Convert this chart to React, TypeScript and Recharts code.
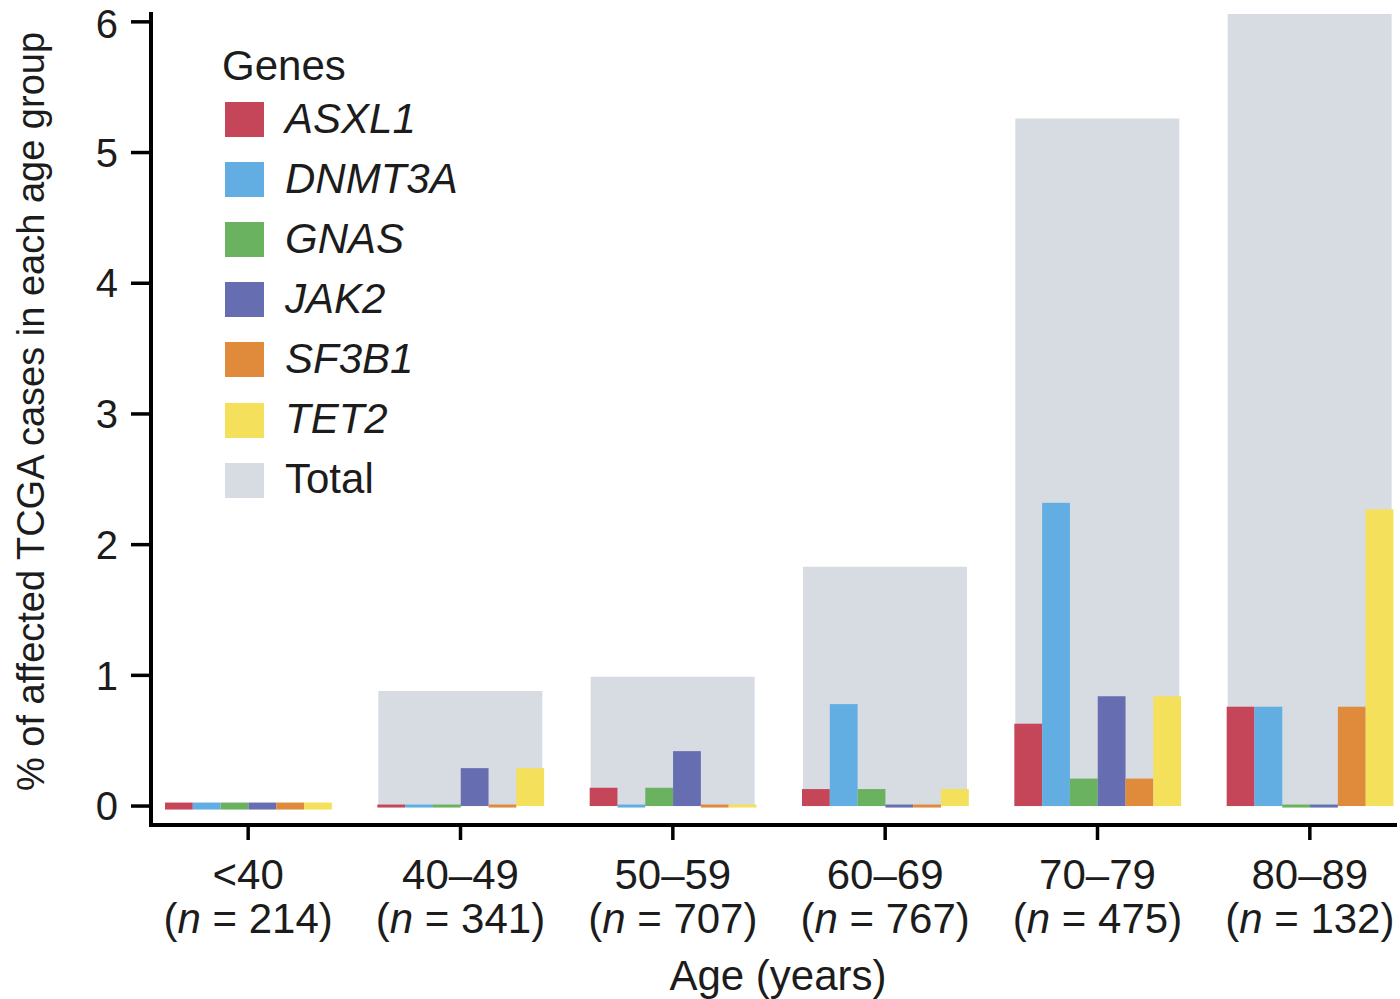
import React from 'react';
import { BarChart, Bar, XAxis, YAxis } from 'recharts';

const AGE_GROUPS = ['<40', '40–49', '50–59', '60–69', '70–79', '80–89'];
const GROUP_N = [214, 341, 707, 767, 475, 132];

// % of affected cases per gene, one value per age group
const ASXL1 = [0, 0, 0.14, 0.13, 0.63, 0.76];
const DNMT3A = [0, 0, 0, 0.78, 2.32, 0.76];
const GNAS = [0, 0, 0.14, 0.13, 0.21, 0];
const JAK2 = [0, 0.29, 0.42, 0, 0.84, 0];
const SF3B1 = [0, 0, 0, 0, 0.21, 0.76];
const TET2 = [0, 0.29, 0, 0.13, 0.84, 2.27];
const TOTAL = [0, 0.88, 0.99, 1.83, 5.26, 6.06];

const Y_TICKS = [0, 1, 2, 3, 4, 5, 6];

const GENES = ['ASXL1', 'DNMT3A', 'GNAS', 'JAK2', 'SF3B1', 'TET2'];
const GENE_VALUES = [ASXL1, DNMT3A, GNAS, JAK2, SF3B1, TET2];
const GENE_COLORS = ['#c64659', '#62aee3', '#6ab160', '#666db0', '#e08b3c', '#f4e05a'];
const TOTAL_COLOR = '#d7dce3';

const FONT = '"Liberation Sans", Arial, Helvetica, sans-serif';
const INK = '#1c1c1c';

const data = AGE_GROUPS.map((age, i) => {
  const row: any = { age, n: GROUP_N[i], total: TOTAL[i] };
  GENES.forEach((g, j) => {
    row[g] = GENE_VALUES[j][i];
  });
  return row;
});

// zero values are still drawn as a thin strip on the baseline
const GeneBar = (props: any) => {
  const { x, y, width, height, fill, payload } = props;
  if (!height || Math.abs(height) < 0.5) {
    const t = payload && payload.total === 0 ? 7 : 3;
    return <rect x={x} y={y - t / 2} width={width} height={t} fill={fill} />;
  }
  return <rect x={x} y={y} width={width} height={height} fill={fill} />;
};

const AgeTick = ({ x, y, payload }: any) => {
  const idx = AGE_GROUPS.indexOf(payload.value);
  return (
    <g fontFamily={FONT} fontSize={42} fill={INK}>
      <text x={x} y={y + 49} textAnchor="middle">{payload.value}</text>
      <text x={x} y={y + 93} textAnchor="middle">
        (<tspan fontStyle="italic">n</tspan> = {GROUP_N[idx]})
      </text>
    </g>
  );
};

const YTitle = ({ viewBox }: any) => {
  const cx = 44;
  const cy = viewBox.y + viewBox.height / 2 - 8;
  return (
    <text
      x={cx}
      y={cy}
      transform={`rotate(-90, ${cx}, ${cy})`}
      textAnchor="middle"
      fontFamily={FONT}
      fontSize={38}
      fill={INK}
    >
      % of affected TCGA cases in each age group
    </text>
  );
};

const XTitle = ({ viewBox }: any) => (
  <text
    x={viewBox.x + viewBox.width / 2 + 5}
    y={viewBox.y + 165}
    textAnchor="middle"
    fontFamily={FONT}
    fontSize={42}
    fill={INK}
  >
    Age (years)
  </text>
);

const LEGEND_ITEMS = [
  ...GENES.map((g, i) => ({ label: g, color: GENE_COLORS[i], italic: true })),
  { label: 'Total', color: TOTAL_COLOR, italic: false },
];

const GeneLegend = () => (
  <div style={{ position: 'absolute', left: 222, top: 41, fontFamily: FONT, color: INK, pointerEvents: 'none' }}>
    <div style={{ fontSize: 42, lineHeight: '50px', height: 50 }}>Genes</div>
    {LEGEND_ITEMS.map((item, i) => (
      <div
        key={item.label}
        style={{ position: 'absolute', left: 3, top: 61 + i * 60.1, display: 'flex', alignItems: 'center', height: 35 }}
      >
        <span style={{ width: 39, height: 35, background: item.color, display: 'inline-block' }} />
        <span style={{ marginLeft: 21, fontSize: 42, lineHeight: '35px', marginTop: -3, fontStyle: item.italic ? 'italic' : 'normal', whiteSpace: 'nowrap' }}>
          {item.label}
        </span>
      </div>
    ))}
  </div>
);

export default function App() {
  return (
    <div style={{ position: 'absolute', left: 0, top: 0, width: 1400, height: 999, overflow: 'hidden', background: '#fff' }}>
      <BarChart
        width={1400}
        height={999}
        data={data}
        margin={{ top: 14, right: 5, bottom: 0, left: 0 }}
        barGap={0}
      >
        <XAxis
          xAxisId="genes"
          dataKey="age"
          height={174}
          padding={{ left: -9, right: -21 }}
          axisLine={{ stroke: '#000', strokeWidth: 4, strokeLinecap: 'square' }}
          tickLine={{ stroke: '#000', strokeWidth: 3.5 }}
          tickSize={15}
          tickMargin={0}
          tick={<AgeTick />}
          interval={0}
          label={<XTitle />}
        />
        <XAxis xAxisId="total" dataKey="age" hide padding={{ left: -9, right: -21 }} />
        <YAxis
          type="number"
          domain={[-0.145, 6.06]}
          ticks={Y_TICKS}
          width={151}
          axisLine={{ stroke: '#000', strokeWidth: 4, strokeLinecap: 'square' }}
          tickLine={{ stroke: '#000', strokeWidth: 3.5 }}
          tickSize={20}
          tickMargin={13}
          tick={{ fontSize: 40, fill: INK, fontFamily: FONT }}
          label={<YTitle />}
        />
        <Bar xAxisId="total" dataKey="total" fill={TOTAL_COLOR} barSize={164} isAnimationActive={false} />
        {GENES.map((g, i) => (
          <Bar
            key={g}
            xAxisId="genes"
            dataKey={g}
            fill={GENE_COLORS[i]}
            barSize={27.8}
            shape={GeneBar}
            isAnimationActive={false}
          />
        ))}
      </BarChart>
      <GeneLegend />
    </div>
  );
}
